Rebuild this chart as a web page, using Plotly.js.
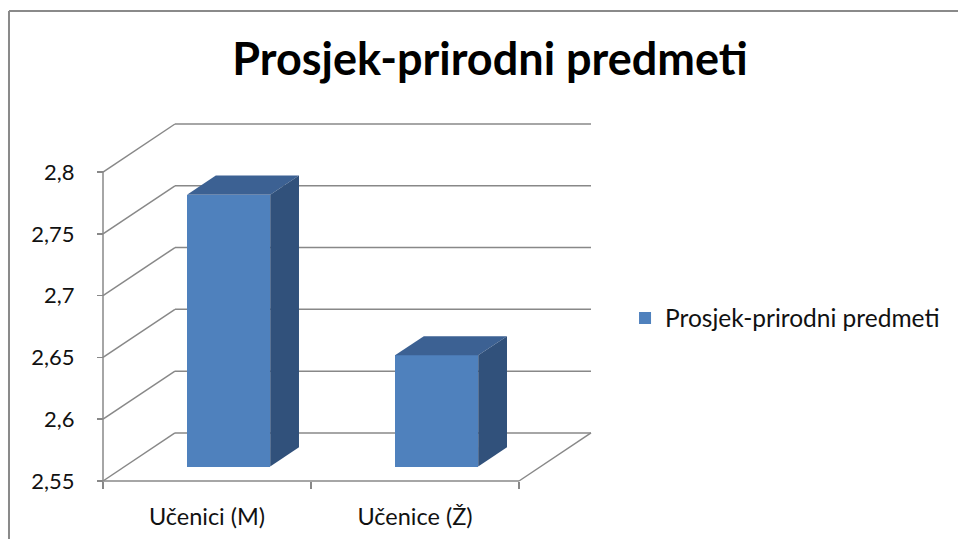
<!DOCTYPE html>
<html><head><meta charset="utf-8">
<script src="https://cdn.plot.ly/plotly-3.0.1.min.js"></script>
<style>html,body{margin:0;padding:0;background:#fff}#chart{width:958px;height:539px}</style>
</head><body><div id="chart"></div>
<script>
// ---- data ----
const categories = ["Učenici (M)", "Učenice (Ž)"];
const seriesName = "Prosjek-prirodni predmeti";
const values = [2.77, 2.64];
const yTickVals = [2.55, 2.6, 2.65, 2.7, 2.75, 2.8];
const yTickText = ["2,55", "2,6", "2,65", "2,7", "2,75", "2,8"];
const chartTitle = "Prosjek-prirodni predmeti";

// ---- 3D oblique projection settings ----
const W = 958, H = 539;
const SX = 208;          // px per category
const SY = 1235.7;       // px per value unit
const DX = 0.346;        // depth offset (category units)
const DY = 0.0389;       // depth offset (value units)
const D0 = 0.3, D1 = 0.7; // bar depth extent
const BW = 0.4;          // bar width
const PADPX = 5;
const n = categories.length;
const yMin = yTickVals[0], yMax = yTickVals[yTickVals.length - 1];
const PADX = PADPX / SX, PADY = PADPX / SY;
const xRange = [-0.5 - PADX, n - 0.5 + DX + PADX];
const yRange = [yMin - PADY, yMax + DY + PADY];
const frontLeftPx = 103, floorPx = 481;
const plotW = (xRange[1] - xRange[0]) * SX;
const plotH = (yRange[1] - yRange[0]) * SY;
const ml = frontLeftPx - PADPX;
const mb = H - floorPx - PADPX;
const mt = H - mb - plotH;
const mr = W - ml - plotW;
const px2paperX = p => (p - ml) / plotW;
const py2paperY = p => (H - mb - p) / plotH;

const gridColor = "#888888";
const shapes = [];
function seg(x0, y0, x1, y1) {
  shapes.push({type: "line", xref: "x", yref: "y", layer: "below",
    x0, y0, x1, y1, line: {color: gridColor, width: 1.5}});
}
yTickVals.forEach(t => {
  seg(-0.5 + DX, t + DY, n - 0.5 + DX, t + DY);   // back wall
  seg(-0.5, t, -0.5 + DX, t + DY);                 // side wall
});
seg(-0.5, yMin, n - 0.5, yMin);                    // floor front
seg(n - 0.5, yMin, n - 0.5 + DX, yMin + DY);       // floor right
seg(-0.5, yMin, -0.5, yMax);                       // front value axis
// chart border
shapes.push({type: "line", xref: "paper", yref: "paper", x0: px2paperX(9), x1: px2paperX(9),
  y0: py2paperY(11), y1: py2paperY(560), line: {color: "#8a8a8a", width: 2}});
shapes.push({type: "line", xref: "paper", yref: "paper", x0: px2paperX(9), x1: px2paperX(980),
  y0: py2paperY(11), y1: py2paperY(11), line: {color: "#8a8a8a", width: 2}});

const traces = [];
traces.push({
  type: "bar", name: seriesName,
  x: categories.map((c, i) => i + D0 * DX),
  y: values.map(v => v - yMin),
  base: values.map(() => yMin + D0 * DY),
  width: BW,
  marker: {color: "#4F81BD", line: {width: 0}},
  hoverinfo: "skip", showlegend: true
});
values.forEach((v, i) => {
  const l = i - BW / 2, r = i + BW / 2;
  traces.push({type: "scatter", mode: "lines", fill: "toself", showlegend: false, hoverinfo: "skip",
    x: [l + D0 * DX, r + D0 * DX, r + D1 * DX, l + D1 * DX, l + D0 * DX],
    y: [v + D0 * DY, v + D0 * DY, v + D1 * DY, v + D1 * DY, v + D0 * DY],
    fillcolor: "#3C6193", line: {width: 0, color: "#3C6193"}});
  traces.push({type: "scatter", mode: "lines", fill: "toself", showlegend: false, hoverinfo: "skip",
    x: [r + D0 * DX, r + D1 * DX, r + D1 * DX, r + D0 * DX, r + D0 * DX],
    y: [v + D0 * DY, v + D1 * DY, yMin + D1 * DY, yMin + D0 * DY, v + D0 * DY],
    fillcolor: "#31517B", line: {width: 0, color: "#31517B"}});
});

const font = "Lato, 'Open Sans', sans-serif";
const layout = {
  width: W, height: H,
  margin: {l: ml, r: mr, t: mt, b: mb, pad: 0},
  paper_bgcolor: "#ffffff", plot_bgcolor: "rgba(0,0,0,0)",
  title: {text: chartTitle, font: {family: font, size: 45, color: "#000", weight: 700},
    x: 490 / W, xref: "container", xanchor: "center", y: 1 - 59 / H, yref: "container", yanchor: "middle"},
  showlegend: true,
  legend: {x: px2paperX(625), xanchor: "left", y: py2paperY(318), yanchor: "middle",
    font: {family: font, size: 24.5, color: "#111"}, bgcolor: "rgba(0,0,0,0)"},
  xaxis: {range: xRange, anchor: "free", position: PADPX / plotH, showgrid: false, zeroline: false, showline: false,
    tickmode: "array", tickvals: categories.map((c, i) => i), ticktext: categories, ticks: "",
    ticklabelstandoff: 20, tickfont: {family: font, size: 23.5, color: "#111"},
    minor: {tickmode: "array", tickvals: categories.map((c, i) => i - 0.5).concat([n - 0.5]),
      ticks: "outside", ticklen: 7, tickwidth: 1.5, tickcolor: gridColor, showgrid: false},
    fixedrange: true},
  yaxis: {range: yRange, anchor: "free", position: PADPX / plotW, showgrid: false, zeroline: false, showline: false,
    tickmode: "array", tickvals: yTickVals, ticktext: yTickText, ticks: "outside", ticklen: 6,
    tickwidth: 1.5, tickcolor: gridColor, ticklabelstandoff: 18,
    tickfont: {family: font, size: 22, color: "#111"}, fixedrange: true},
  shapes: shapes,
  bargap: 0
};
Plotly.newPlot("chart", traces, layout, {staticPlot: true, displayModeBar: false});
</script>
</body></html>
